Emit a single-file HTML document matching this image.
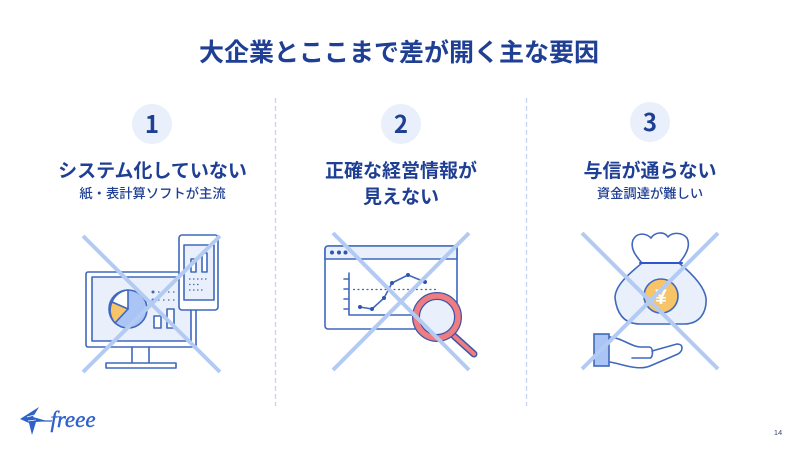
<!DOCTYPE html>
<html lang="ja"><head><meta charset="utf-8">
<style>
html,body{margin:0;padding:0;background:#fff;width:800px;height:450px;overflow:hidden}
svg{display:block}
text{font-family:"Liberation Sans","Noto Sans CJK JP",sans-serif;fill:#1f3f94;text-anchor:middle;font-weight:700}
.h{font-size:19px}
.s{font-size:13.3px;font-weight:500}
.n{font-size:24px;font-family:"Noto Sans CJK JP",sans-serif}
.l{stroke:#3f68bd;stroke-width:1.6;stroke-linecap:round;stroke-linejoin:round}
.x{stroke:#b3cbf3;stroke-width:4;stroke-linecap:butt;fill:none}
</style></head><body>
<svg width="800" height="450" viewBox="0 0 800 450" xmlns="http://www.w3.org/2000/svg">
<rect width="800" height="450" fill="#fff"/>
<text x="399" y="61" font-size="25">大企業とここまで差が開く主な要因</text>

<line x1="275.500" y1="98" x2="275.500" y2="406" stroke="#c5d5ee" stroke-width="1.300" stroke-dasharray="5 3"/>
<line x1="526.500" y1="98" x2="526.500" y2="406" stroke="#c5d5ee" stroke-width="1.300" stroke-dasharray="5 3"/>

<circle cx="152" cy="124" r="20" fill="#e9f0fb"/>
<circle cx="401" cy="124" r="20" fill="#e9f0fb"/>
<circle cx="650" cy="122" r="20" fill="#e9f0fb"/>
<text class="n" x="152" y="133">1</text>
<text class="n" x="401" y="133">2</text>
<text class="n" x="650" y="131">3</text>

<text class="h" x="152.500" y="177">システム化していない</text>
<text class="s" x="152.500" y="198">紙・表計算ソフトが主流</text>
<text class="h" x="401" y="177">正確な経営情報が</text>
<text class="h" x="401" y="203">見えない</text>
<text class="h" x="650" y="177">与信が通らない</text>
<text class="s" x="650" y="198">資金調達が難しい</text>

<!-- icon 1 -->
<rect x="86" y="272" width="110" height="75" rx="2" fill="#fff" class="l"/>
<rect x="92" y="277" width="99" height="64" fill="#e9f0fb" class="l"/>
<path class="l" fill="none" d="M132 347V363M149 347V363"/>
<rect x="106" y="363" width="70" height="5" fill="#fff" class="l"/>
<circle cx="128" cy="309" r="19" fill="#a9c4f5" class="l"/>
<path d="M128 309V290A19 19 0 0 0 112 302Z" fill="#fff" class="l"/>
<path d="M128 309L112 302A19 19 0 0 0 115 323Z" fill="#f8c468" class="l"/>
<path d="M153 292H176M153 300H176" stroke="#3f68bd" stroke-width="1.300" stroke-dasharray="1.500 3.500" fill="none"/>
<circle cx="153" cy="292" r="1.500" fill="#3f68bd"/><circle cx="153" cy="300" r="1.500" fill="#3f68bd"/>
<rect x="154" y="316" width="7" height="12" fill="#fff" class="l"/>
<rect x="167" y="309" width="7" height="19" fill="#fff" class="l"/>
<rect x="179" y="235" width="39" height="75" rx="3" fill="#fff" class="l"/>
<rect x="184" y="245" width="30" height="55" fill="#e9f0fb" class="l"/>
<rect x="191" y="259" width="5" height="13" fill="#fff" class="l"/>
<rect x="202" y="253" width="5" height="19" fill="#fff" class="l"/>
<path d="M189 279H207M189 284.500H200M189 290H204" stroke="#3f68bd" stroke-width="1.300" stroke-dasharray="1.500 2.500" fill="none"/>
<path class="x" d="M83 236L220 372M83 372L220 236"/>

<!-- icon 2 -->
<rect x="325" y="246" width="132" height="83" rx="3" fill="#fff" class="l"/>
<path d="M325 259V249a3 3 0 0 1 3-3H457V259Z" fill="#e9f0fb" class="l"/>
<circle cx="332" cy="252.500" r="2" fill="#2f55ad"/><circle cx="339" cy="252.500" r="2" fill="#2f55ad"/><circle cx="345.500" cy="252.500" r="2" fill="#2f55ad"/>
<path class="l" fill="none" d="M349 273V315H420M344 279H349M344 289H349M344 299H349M344 309H349"/>
<path d="M353 289.500H436" stroke="#3f68bd" stroke-width="1.300" stroke-dasharray="2 2.500" fill="none"/>
<path class="l" fill="none" d="M360 307L372 309L384 298L392 283L408 275L425 282"/>
<g fill="#2f55ad"><circle cx="360" cy="307" r="2"/><circle cx="372" cy="309" r="2"/><circle cx="384" cy="298" r="2"/><circle cx="392" cy="283" r="2"/><circle cx="408" cy="275" r="2"/><circle cx="425" cy="282" r="2"/></g>
<path d="M454 336L474 354" stroke="#3f55a8" stroke-width="7" stroke-linecap="round"/>
<path d="M454 336L474 354" stroke="#ee7c80" stroke-width="4" stroke-linecap="round"/>
<circle cx="437" cy="317" r="21" fill="#e9f0fb" stroke="#3f55a8" stroke-width="8"/>
<circle cx="437" cy="317" r="21" fill="none" stroke="#ee7c80" stroke-width="5.500"/>
<path class="x" d="M333 233L469 370M333 370L469 233"/>

<!-- icon 3 -->
<path d="M642 263C635 255 630 248 633 240C637 232 646 233 651 238C655 232 664 231 668 237C672 232 682 232 687 238C691 246 686 255 679 263Z" fill="#fff" class="l"/>
<path d="M642 263C630 273 615 285 615 298C617 315 625 324 640 324H684C700 324 707 312 706 298C704 285 690 272 679 263Z" fill="#e9f0fb" class="l"/>
<path d="M640 263H682" stroke="#2f55d0" stroke-width="2" stroke-linecap="round"/>
<circle cx="661" cy="296" r="17" fill="#f8c468" stroke="#3f68bd" stroke-width="1.600"/>
<text x="661" y="304" font-size="21" style="fill:#fff">¥</text>
<path class="l" fill="none" d="M610 337C622 338 632 347 640 347H649C654 347 653 358 650 358L632 358M652 351L677 344C684 344 683 351 678 354L650 366C638 371 622 364 610 362"/>
<rect x="594" y="334" width="15" height="32" fill="#a9c4f5" stroke="#3f68bd" stroke-width="1.600"/>
<path class="x" d="M582 233L718 369M582 369L718 233"/>

<!-- logo -->
<path d="M20 419L39 407L33 417L47 421L36 422L32 435L29 423Z" fill="#2f62c9"/>
<path d="M27 417L38 414M28 421L36 420" stroke="#fff" stroke-width="0.800"/>
<path d="M34 421H52" stroke="#2f62c9" stroke-width="1.300"/>
<text x="73" y="427" font-size="23" style="font-family:'Liberation Serif',serif;font-style:italic;fill:#2f62c9;font-weight:400;stroke:#2f62c9;stroke-width:0.400">freee</text>
<text x="778" y="435" font-size="7.500" style="font-weight:400;fill:#3a4a6b">14</text>
</svg>
</body></html>
